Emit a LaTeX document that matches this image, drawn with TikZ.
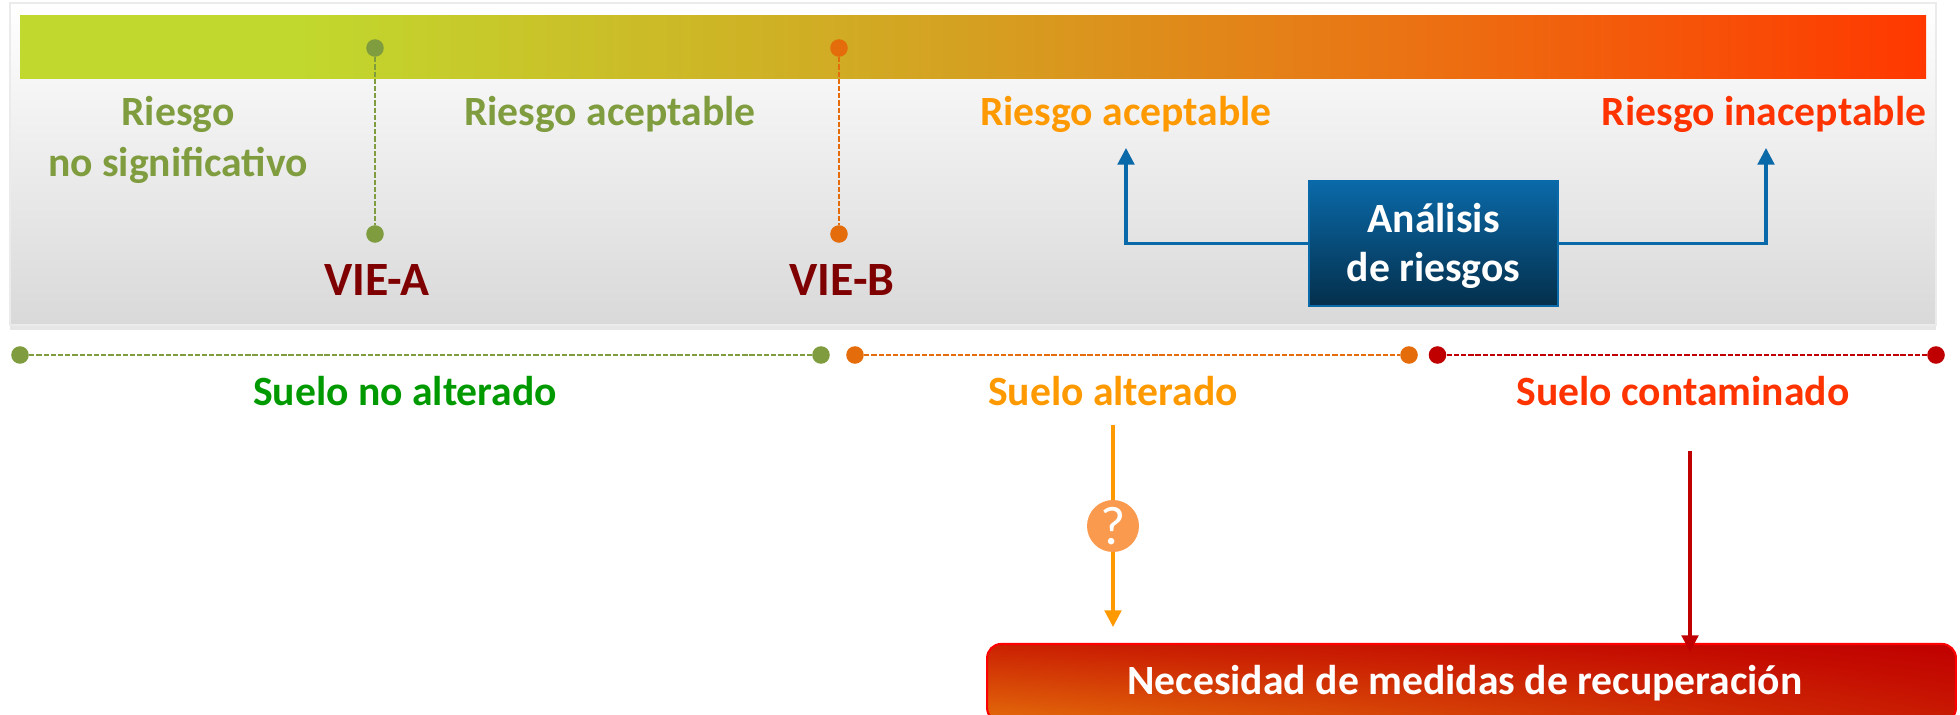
\documentclass[tikz,border=0pt]{standalone}
\usepackage{fontspec}
\setmainfont{Carlito}
\usetikzlibrary{arrows.meta,shadows,shadings}
\definecolor{olivegreen}{HTML}{7F9C3E}
\definecolor{dotorange}{HTML}{E46C0A}
\definecolor{dotred}{HTML}{C00000}
\definecolor{vieRed}{HTML}{7F0000}
\definecolor{sueloGreen}{HTML}{009A00}
\definecolor{warnOrange}{HTML}{FF9900}
\definecolor{warnRed}{HTML}{FF3300}
\definecolor{linkBlue}{HTML}{0A69A8}
\definecolor{duda}{HTML}{F99A4E}
\definecolor{barA}{HTML}{C1D92E}
\definecolor{barB}{HTML}{D5A021}
\definecolor{barC}{HTML}{EC7012}
\definecolor{barD}{HTML}{FF3800}
\pgfdeclarehorizontalshading{riskbar}{100bp}{color(0bp)=(barA);
  color(25bp)=(barA); color(32bp)=(barA); color(50bp)=(barB);
  color(62bp)=(barC); color(75bp)=(barD); color(100bp)=(barD)}
\tikzset{
  txt/.style={font=\fontsize{23.7}{29}\selectfont\bfseries,inner sep=0pt,align=center},
  viotxt/.style={font=\fontsize{27.2}{32}\selectfont\bfseries,inner sep=0pt,text=vieRed},
  dot/.style={circle,minimum size=10pt,inner sep=0pt,fill=#1},
  limit/.style={dash pattern=on 3pt off 1.1pt,line width=1.4pt,draw=#1},
  arrowtip/.style={-{Triangle[length=9.5pt,width=9.5pt]},draw=#1,line width=1.8pt}
}
\begin{document}
\begin{tikzpicture}[x=0.02cm,y=-0.02cm]
  \useasboundingbox (0,0) rectangle (1960,715);
  \clip (0,0) rectangle (1960,715);
  % panel and bar
  \shade[top color=white,bottom color=black!15,draw=black!8,line width=.8pt,
    drop shadow={shadow xshift=0pt,shadow yshift=-3pt,opacity=.2}] (10,3) rectangle (1936,325);
  \shade[shading=riskbar] (20,16) rectangle (1926,79);

  \node[dot=olivegreen] (vieAtop) at (375,48) {};
  \node[dot=olivegreen] (vieAbot) at (375,234) {};
  \node[dot=dotorange] (vieBtop) at (839,48) {};
  \node[dot=dotorange] (vieBbot) at (839,234) {};
  \draw[limit=olivegreen] (vieAtop) -- (vieAbot);
  \draw[limit=dotorange] (vieBtop) -- (vieBbot);
  \node[viotxt] (vieA) at (377,280) {VIE-A};
  \node[viotxt] (vieB) at (842,280) {VIE-B};

  \node[txt,text=olivegreen] (noSig) at (178,140) {Riesgo\\no significativo};
  \node[txt,text=olivegreen] (acepA) at (610,114) {Riesgo aceptable};
  \node[txt,text=warnOrange] (acepB) at (1126,114) {Riesgo aceptable};
  \node[txt,text=warnRed] (inacep) at (1764,114) {Riesgo inaceptable};

  % analisis de riesgos
  \node[minimum width=4.98cm,minimum height=2.5cm,draw=linkBlue,line width=1pt,
    top color=linkBlue,bottom color=linkBlue!45!black] (analisis) at (1433.5,243.5) {};
  \node[txt,text=white] (analisisTxt) at (1433.5,246) {An\'alisis\\[-1pt]de riesgos};
  \coordinate (tipB) at (1126,148);
  \coordinate (tipC) at (1766,148);
  \draw[arrowtip=linkBlue] (analisis.west) -| (tipB);
  \draw[arrowtip=linkBlue] (analisis.east) -| (tipC);

  % tramos de suelo
  \node[dot=olivegreen] (s1a) at (20,355) {};
  \node[dot=olivegreen] (s1b) at (821,355) {};
  \node[dot=dotorange] (s2a) at (855,355) {};
  \node[dot=dotorange] (s2b) at (1409,355) {};
  \node[dot=dotred] (s3a) at (1437.5,355) {};
  \node[dot=dotred] (s3b) at (1936,355) {};
  \draw[limit=olivegreen] (s1a) -- (s1b);
  \draw[limit=dotorange] (s2a) -- (s2b);
  \draw[limit=dotred] (s3a) -- (s3b);
  \node[txt,text=sueloGreen] (noAlt) at (405,391) {Suelo no alterado};
  \node[txt,text=warnOrange] (alt) at (1113,391) {Suelo alterado};
  \node[txt,text=warnRed] (cont) at (1683,391) {Suelo contaminado};

  % recuperacion
  \node[minimum width=19.38cm,minimum height=1.56cm,rounded corners=8pt,draw=red,line width=1.2pt,
    lower left=dotorange,lower right=dotred!75!dotorange,upper left=dotred!70!dotorange,upper right=dotred]
    (medidas) at (1471.5,683) {};
  \node[txt,text=white] (medidasTxt) at (1465,683) {Necesidad de medidas de recuperaci\'on};

  \coordinate (altStart) at (1113,425);
  \coordinate (altEnd) at (1113,627);
  \coordinate (contStart) at (1690,451);
  \coordinate (contEnd) at (1690,652);
  \node[circle,fill=duda,minimum size=29.6pt,inner sep=0pt,text=white,
    font=\fontsize{31}{36}\selectfont] (pregunta) at (1113,526) {?};
  \draw[draw=warnOrange,line width=1.8pt] (altStart) -- (pregunta);
  \draw[arrowtip=warnOrange] (pregunta) -- (altEnd);
  \draw[arrowtip=dotred] (contStart) -- (contEnd);
\end{tikzpicture}
\end{document}
